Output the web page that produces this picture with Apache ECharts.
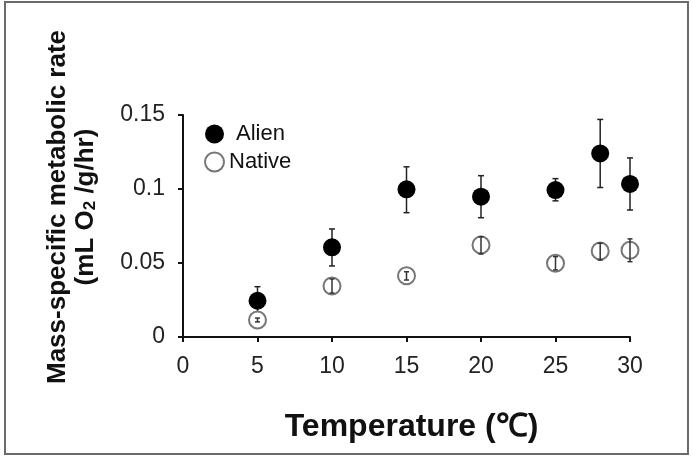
<!DOCTYPE html>
<html>
<head>
<meta charset="utf-8">
<script src="https://cdn.jsdelivr.net/npm/echarts@6/dist/echarts.min.js"></script>
<style>
  html, body { margin: 0; padding: 0; background: #fff; }
  #chart { width: 693px; height: 457px; }
</style>
</head>
<body>
<div id="chart"></div>
<script>
// temperatures (°C)
const temps = [5, 10, 15, 20, 25, 28, 30];

// mean metabolic rate
const alienMean = [0.0245, 0.0606, 0.0998, 0.0948, 0.0993, 0.124, 0.1034];
const alienLow  = [0.016, 0.048, 0.084, 0.0806, 0.092, 0.101, 0.0858];
const alienHigh = [0.034, 0.073, 0.115, 0.109, 0.107, 0.147, 0.121];

const nativeMean = [0.0115, 0.0345, 0.0414, 0.0622, 0.0498, 0.0581, 0.0586];
const nativeLow  = [0.0102, 0.0297, 0.0385, 0.0561, 0.0453, 0.052, 0.0509];
const nativeHigh = [0.0128, 0.0392, 0.0441, 0.0678, 0.0543, 0.0633, 0.0663];

const yTicks = [0, 0.05, 0.1, 0.15];

const font = '"Liberation Sans", Arial, Helvetica, sans-serif';

function errorBars(low, high, color, cap) {
    return {
        type: 'custom',
        data: temps.map((t, i) => [t, low[i], high[i]]),
        encode: { x: 0, y: [1, 2] },
        z: 1,
        renderItem: function (params, api) {
            const x = api.value(0);
            const lo = api.coord([x, api.value(1)]);
            const hi = api.coord([x, api.value(2)]);
            const style = { stroke: color, lineWidth: 1.5 };
            return {
                type: 'group',
                children: [
                    { type: 'line', shape: { x1: lo[0], y1: lo[1], x2: hi[0], y2: hi[1] }, style: style },
                    { type: 'line', shape: { x1: lo[0] - cap, y1: lo[1], x2: lo[0] + cap, y2: lo[1] }, style: style },
                    { type: 'line', shape: { x1: hi[0] - cap, y1: hi[1], x2: hi[0] + cap, y2: hi[1] }, style: style }
                ]
            };
        }
    };
}

const chart = echarts.init(document.getElementById('chart'));

const option = {
    animation: false,
    backgroundColor: '#fff',
    textStyle: { fontFamily: font },
    grid: { left: 183, right: 63, top: 115, bottom: 120 },
    graphic: [
        {
            type: 'rect',
            shape: { x: 5, y: 2, width: 683, height: 452 },
            style: { fill: 'none', stroke: '#6a6a6a', lineWidth: 2 }
        },
        {
            // y axis title, two lines, rotated
            type: 'text',
            x: 72,
            y: 207,
            rotation: Math.PI / 2,
            style: {
                text: '{b|Mass-specific metabolic rate}\n{b|(mL O}{s|2}{b| /g/hr)}',
                align: 'center',
                verticalAlign: 'middle',
                lineHeight: 28,
                rich: {
                    b: { fontSize: 26, fontWeight: 'bold', fill: '#111', fontFamily: font, lineHeight: 28 },
                    s: { fontSize: 17, fontWeight: 'bold', fill: '#111', fontFamily: font, padding: [9, 0, 0, 0], lineHeight: 28 }
                }
            }
        }
    ],
    legend: {
        orient: 'vertical',
        left: 199,
        top: 118,
        itemWidth: 19,
        itemHeight: 19,
        itemGap: 6,
        textStyle: { fontSize: 22, color: '#111', fontFamily: font },
        data: [
            { name: 'Alien', icon: 'circle', textStyle: { padding: [0, 0, 0, 7] } },
            { name: 'Native', icon: 'circle' }
        ]
    },
    xAxis: {
        type: 'value',
        min: 0,
        max: 30,
        interval: 5,
        name: 'Temperature (℃)',
        nameLocation: 'middle',
        nameGap: 74,
        nameTextStyle: { fontSize: 32, fontWeight: 'bold', color: '#111', fontFamily: font, padding: [0, 0, 0, 10] },
        axisLine: { lineStyle: { color: '#111', width: 2 } },
        axisTick: { inside: false, length: 5, lineStyle: { color: '#111', width: 2 } },
        axisLabel: { fontSize: 23, color: '#222', margin: 18, fontFamily: font },
        splitLine: { show: false }
    },
    yAxis: {
        type: 'value',
        min: 0,
        max: 0.15,
        interval: 0.05,
        axisLine: { show: true, lineStyle: { color: '#111', width: 2 } },
        axisTick: { show: true, inside: false, length: 5, lineStyle: { color: '#111', width: 2 } },
        axisLabel: {
            fontSize: 23, color: '#222', margin: 18, fontFamily: font,
            formatter: v => String(yTicks.find(t => Math.abs(t - v) < 1e-9) ?? v)
        },
        splitLine: { show: false }
    },
    series: [
        errorBars(alienLow, alienHigh, '#222', 3),
        {
            name: 'Alien',
            type: 'scatter',
            symbol: 'circle',
            symbolSize: 18,
            z: 2,
            itemStyle: { color: '#000', opacity: 1 },
            data: temps.map((t, i) => [t, alienMean[i]])
        },
        {
            name: 'Native',
            type: 'scatter',
            symbol: 'circle',
            symbolSize: 17,
            z: 3,
            itemStyle: { color: '#fff', borderColor: '#777', borderWidth: 2, opacity: 1 },
            data: temps.map((t, i) => [t, nativeMean[i]])
        },
        Object.assign(errorBars(nativeLow, nativeHigh, '#333', 2.5), { z: 4 })
    ]
};

chart.setOption(option);
</script>
</body>
</html>
